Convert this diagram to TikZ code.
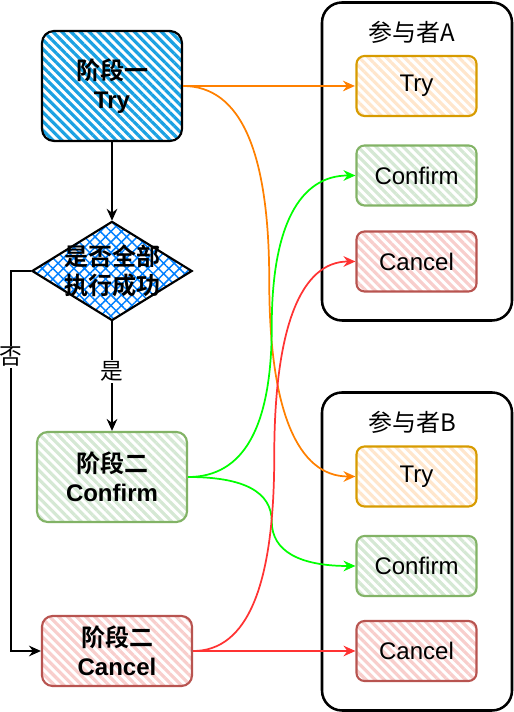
\documentclass[tikz,border=0pt]{standalone}
\usepackage{fontspec}
\setmainfont{Liberation Sans}
\newfontfamily\cjk{Noto Sans CJK SC}[BoldFont={Noto Sans CJK SC Bold}]
\usepackage{tikz}
\usetikzlibrary{arrows.meta,calc,shapes.geometric,patterns.meta,positioning}

\definecolor{hatchblue}{RGB}{27,161,226}
\definecolor{gridblue}{RGB}{0,127,255}
\definecolor{okfill}{RGB}{213,232,212}
\definecolor{okline}{RGB}{130,179,102}
\definecolor{nofill}{RGB}{248,206,204}
\definecolor{noline}{RGB}{184,84,80}
\definecolor{tryfill}{RGB}{255,230,204}
\definecolor{tryline}{RGB}{215,155,0}
\definecolor{tryedge}{RGB}{255,128,0}
\definecolor{okedge}{RGB}{0,255,0}
\definecolor{noedge}{RGB}{255,51,51}

\tikzset{
  stripes/.style={pattern={Lines[angle=-45,distance=4.8pt,line width=2.4pt]},pattern color=#1},
  phase/.style={draw=#1line,line width=1.6pt,rounded corners=8pt,stripes=#1fill,
    minimum width=112.5pt,align=center,font=\fontsize{18}{22}\selectfont\bfseries},
  part/.style={draw,line width=1.9pt,rounded corners=15pt,minimum width=142.5pt,minimum height=238.5pt},
  actbox/.style={draw=#1line,line width=1.6pt,rounded corners=6pt,stripes=#1fill,
    minimum width=90pt,minimum height=45pt,font=\fontsize{18}{22}\selectfont},
  flow/.style={line width=1.3pt,-{Stealth[length=9pt,width=8pt,inset=3pt]}},
  call/.style={flow,draw=#1},
  elbow/.style={to path={let \p1=(\tikztostart),\p2=(\tikztotarget),\p3=($(\p1)!.5!(\p2)$) in
    .. controls ($(\p1)!2/3!(\x3,\y1)$) and ($(\p3)!2/3!(\x3,\y1)$) .. (\p3)
    .. controls ($(\p3)!2/3!(\x3,\y2)$) and ($(\p2)!2/3!(\x3,\y2)$) .. (\p2) \tikztonodes}},
  tag/.style={fill=white,inner sep=1pt,font=\cjk\fontsize{17}{20}\selectfont}
}

\begin{document}
\begin{tikzpicture}[x=0.75pt,y=0.75pt]
  \useasboundingbox (0,0) rectangle (513,712);

  %Shape: Participants
  \node[part] (ctA) at (417,550.5) {};
  \node[part] (ctB) at (417,160.5) {};
  \node[font=\cjk\fontsize{18}{20}\selectfont] (ttlA) at (412,680) {参与者A};
  \node[font=\cjk\fontsize{18}{20}\selectfont] (ttlB) at (412,290) {参与者B};

  %Shape: Steps of A and B
  \node[actbox=try] (tryA) at (416.5,626) {Try};
  \node[actbox=ok] (okA) at (416.5,536.5) {Confirm};
  \node[actbox=no] (noA) at (416.5,450.5) {Cancel};
  \node[actbox=try] (tryB) at (416.5,235.5) {Try};
  \node[actbox=ok] (okB) at (416.5,146) {Confirm};
  \node[actbox=no] (noB) at (416.5,61) {Cancel};

  %Shape: Phases
  \node[draw,line width=1.6pt,rounded corners=9pt,stripes=hatchblue,
    minimum width=105pt,minimum height=82.5pt,align=center,
    font=\fontsize{18}{22}\selectfont\bfseries] (p1) at (112,626) {{\cjk 阶段一}\\Try};
  \node[draw,line width=1.6pt,shape=diamond,inner sep=0pt,
    minimum width=120pt,minimum height=74.25pt,
    pattern={Hatch[angle=45,distance=5.6pt,line width=1.1pt]},pattern color=gridblue,
    label={[align=center,font=\cjk\fontsize{18}{22}\selectfont\bfseries]center:{是否全部\\执行成功}}]
    (dec) at (112,441) {};
  \node[phase=ok,minimum height=67.5pt] (c2) at (112,235) {{\cjk 阶段二}\\Confirm};
  \node[phase=no,minimum height=52.5pt] (k2) at (117,61) {{\cjk 阶段二}\\Cancel};

  %Lines: flow
  \draw[flow] (p1.south) -- (dec.north);
  \draw[flow] (dec.south) -- node[tag,pos=0.46]{是} (c2.north);
  \draw[flow] (dec.west) -- ++(-20,0) |- node[tag,pos=0.113]{否} (k2.west);

  %Curve Lines: calls
  \draw[call=tryedge] (p1.east) -- (tryA.west);
  \draw[call=tryedge] (p1.east) to[elbow] (tryB.west);
  \draw[call=okedge] (c2.east) to[elbow] (okA.west);
  \draw[call=okedge] (c2.east) to[elbow] (okB.west);
  \draw[call=noedge] (k2.east) to[elbow] (noA.west);
  \draw[call=noedge] (k2.east) -- (noB.west);
\end{tikzpicture}
\end{document}
